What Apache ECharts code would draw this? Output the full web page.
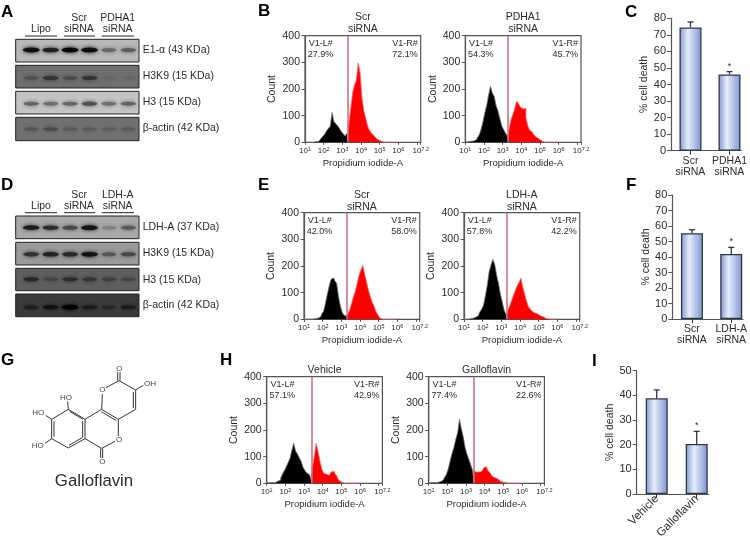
<!DOCTYPE html>
<html>
<head>
<meta charset="utf-8">
<style>html,body{margin:0;background:#fff}#main{width:750px;height:542px}</style>
<script src="https://cdn.jsdelivr.net/npm/echarts@6/dist/echarts.min.js"></script>
</head>
<body>
<div id="main"></div>
<script>
// histogram bins, log10 of propidium iodide signal
var logBins = [1.0,1.1,1.2,1.3,1.4,1.5,1.6,1.7,1.8,1.9,
  2.0,2.1,2.2,2.3,2.4,2.5,2.6,2.7,2.8,2.9,
  3.0,3.1,3.2,3.3,3.4,3.5,3.6,3.7,3.8,3.9,
  4.0,4.1,4.2,4.3,4.4,4.5,4.6,4.7,4.8,4.9,
  5.0,5.1,5.2,5.3,5.4,5.5,5.6,5.7,5.8,5.9];
var countsScrB = [0,0,0,0,0,1,2,4,8,14,
  22,30,42,52,60,112,78,70,62,52,
  40,32,24,34,70,125,185,215,232,298,
  262,170,118,92,62,45,36,28,20,12,
  7,2,1,0,0,0,0,0,0,0];
var countsPdha = [1,2,3,4,5,7,10,18,28,50,
  78,112,140,178,210,185,172,138,118,90,
  62,48,35,24,50,85,105,125,155,145,
  132,125,128,90,62,45,38,30,22,15,
  8,3,1,0,0,0,0,0,0,0];
var countsScrE = [0,0,0,0,0,0,2,4,7,10,
  20,30,60,95,125,150,155,145,135,85,
  50,25,15,12,20,35,60,85,105,135,
  165,185,202,170,140,110,85,65,50,30,
  18,6,1,0,0,0,0,0,0,0];
var countsLdh = [0,0,1,1,3,4,7,12,18,28,
  38,55,90,130,180,205,225,205,165,135,
  95,65,35,18,35,50,70,90,108,125,
  138,155,120,95,68,48,38,30,24,20,
  16,13,10,6,3,1,0,0,0,0];
var countsVehicle = [2,2,2,3,2,5,8,12,20,35,
  48,62,78,95,125,150,120,110,95,82,
  60,48,38,32,20,60,100,150,120,85,
  55,38,34,30,32,42,45,36,28,12,
  5,1,0,0,0,0,0,0,0,0];
var countsGallo = [1,2,2,3,2,4,6,10,14,22,
  34,55,85,112,135,165,190,240,205,175,
  135,110,90,70,48,42,40,42,45,48,
  58,62,50,42,32,24,20,15,10,7,
  4,2,1,0,0,0,0,0,0,0];

// bar panels
var catsC = ['Scr\nsiRNA','PDHA1\nsiRNA'], meanC = [74.4,46.1], upperC = [77.8,47.8], starC = [0,1];
var catsF = ['Scr\nsiRNA','LDH-A\nsiRNA'], meanF = [55.3,41.9], upperF = [57.6,46.2], starF = [0,1];
var catsI = ['Vehicle','Galloflavin'], meanI = [38.8,20.3], upperI = [42.2,25.4], starI = [0,1];

// blot band strength per lane (0..1)
var bandE1 = [0.95,0.85,1,0.95,0.45,0.5];
var bandH3K9a = [0.3,0.55,0.35,0.55,0.08,0.08];
var bandH3a = [0.5,0.45,0.5,0.6,0.45,0.5];
var bandActinA = [0.25,0.35,0.2,0.2,0.18,0.2];
var bandLdh = [0.85,0.75,0.6,0.9,0.25,0.5];
var bandH3K9d = [0.7,0.8,0.75,0.9,0.45,0.55];
var bandH3d = [0.6,0.3,0.55,0.45,0.35,0.3];
var bandActinD = [0.5,0.7,1,0.55,0.35,0.55];

var FONT = 'Liberation Sans';
var TXT = '#2b2b2b';
var grids = [], xAxes = [], yAxes = [], series = [], gfx = [];

function text(str, x, y, size, opt) {
  opt = opt || {};
  gfx.push({
    type: 'text', x: x, y: y, silent: true,
    style: {
      text: str, fontFamily: FONT, fontSize: size, fontWeight: opt.bold ? 'bold' : 'normal',
      fill: opt.color || TXT, align: opt.align || 'left', verticalAlign: 'middle'
    },
    z: opt.z || 10
  });
}
function line(x1, y1, x2, y2, w, c) {
  gfx.push({ type: 'line', silent: true, shape: { x1: x1, y1: y1, x2: x2, y2: y2 }, style: { stroke: c || '#333', lineWidth: w || 1 } });
}

// one western blot strip
function addBlot(left, top, height, bandY, bg, bands) {
  var idx = grids.length;
  var level = parseInt(bg.slice(1, 3), 16);
  grids.push({ show: true, left: left, top: top, width: 123.3, height: height, backgroundColor: bg, borderColor: '#222', borderWidth: 1 });
  xAxes.push({ type: 'value', gridIndex: idx, min: -0.8, max: 5.55, show: false });
  yAxes.push({ type: 'value', gridIndex: idx, min: 0, max: height, inverse: true, show: false });
  series.push({
    type: 'scatter', xAxisIndex: idx, yAxisIndex: idx, silent: true,
    data: bands.map(function (s, lane) {
      var g = Math.round(level * (1 - s));
      var col = 'rgb(' + g + ',' + g + ',' + g + ')';
      return {
        value: [lane, bandY - top],
        symbolSize: [14 + 3 * s, 3 + 2 * s],
        itemStyle: { color: col, shadowBlur: 4, shadowColor: col, opacity: 0.95 }
      };
    })
  });
}

function addBlotHeader(groups, yLine, yA, yB) {
  groups.forEach(function (g) {
    if (g.a) text(g.a, g.cx, yA, 10.5, { align: 'center' });
    text(g.b, g.cx, yB, 10.5, { align: 'center' });
    line(g.x1, yLine, g.x2, yLine, 1, '#222');
  });
}

// one flow histogram, black left of the gate and red right of it
function addHist(left, top, title, gate, counts, pctL, pctR, titleYs) {
  var idx = grids.length, w = 115.7, h = 106.6;
  grids.push({ show: true, left: left, top: top, width: w, height: h, borderColor: '#555', borderWidth: 1.2, backgroundColor: 'transparent' });
  xAxes.push({
    type: 'value', gridIndex: idx, min: 1, max: 7.2, interval: 1,
    name: 'Propidium iodide-A', nameLocation: 'middle', nameGap: 16,
    nameTextStyle: { fontFamily: FONT, fontSize: 9.5, color: TXT },
    splitLine: { show: false },
    axisLine: { lineStyle: { color: '#555', width: 1.2 } },
    axisTick: { length: 2.5, lineStyle: { color: '#555' }, customValues: [1, 2, 3, 4, 5, 6, 7, 7.2] },
    axisLabel: {
      margin: 4, customValues: [1, 2, 3, 4, 5, 6, 7.2], hideOverlap: false,
      showMinLabel: true, showMaxLabel: true,
      formatter: function (v) { return '{b|10}{s|' + v + '}'; },
      rich: {
        b: { fontFamily: FONT, fontSize: 8, color: TXT, lineHeight: 9 },
        s: { fontFamily: FONT, fontSize: 5.5, color: TXT, verticalAlign: 'top', lineHeight: 9 }
      }
    }
  });
  yAxes.push({
    type: 'value', gridIndex: idx, min: 0, max: 400, interval: 100,
    name: 'Count', nameLocation: 'middle', nameGap: 27,
    nameTextStyle: { fontFamily: FONT, fontSize: 10.5, color: TXT },
    splitLine: { show: false },
    axisLine: { lineStyle: { color: '#555', width: 1.2 } },
    axisTick: { length: 3.5, lineStyle: { color: '#555' } },
    axisLabel: { margin: 5, fontFamily: FONT, fontSize: 10.5, color: TXT }
  });
  var pts = logBins.map(function (b, i) { return [b, counts[i]]; });
  var cut = logBins.findIndex(function (b) { return b >= gate; });
  function hist(data, fill, edge, extra) {
    series.push(Object.assign({
      type: 'line', xAxisIndex: idx, yAxisIndex: idx, step: 'middle', symbol: 'none', silent: true,
      data: data, lineStyle: { color: edge, width: 0.8 }, areaStyle: { color: fill, opacity: 1 }
    }, extra || {}));
  }
  hist(pts.slice(0, cut + 1), '#000', '#777');
  hist(pts.slice(cut), '#f00', '#f66', {
    markLine: {
      silent: true, symbol: 'none', label: { show: false }, animation: false,
      lineStyle: { color: '#c96a82', width: 1.5, type: 'solid' },
      data: [{ xAxis: gate }]
    }
  });
  var cx = left + w / 2;
  title.forEach(function (t, i) { text(t, cx, titleYs[i], 10.5, { align: 'center' }); });
  text('V1-L#', left + 3.7, top + 7.5, 9);
  text(pctL, left + 2.7, top + 19, 9);
  text('V1-R#', left + w - 3, top + 7.5, 9, { align: 'right' });
  text(pctR, left + w - 3, top + 19, 9, { align: 'right' });
}

// one % cell death bar panel; x is a value axis so the baseline stops at the second bar
function addBars(left, top, height, yMax, cats, means, uppers, stars, rotate) {
  var idx = grids.length;
  grids.push({ left: left, top: top, width: 72, height: height });
  xAxes.push({
    type: 'value', gridIndex: idx, min: -0.5, max: 1.3, splitLine: { show: false },
    axisLine: { onZero: false, lineStyle: { color: '#555', width: 1.2 } },
    axisTick: { length: 4, lineStyle: { color: '#333' }, customValues: [0, 1] },
    axisLabel: {
      customValues: [0, 1], margin: rotate ? 3 : 5, rotate: rotate || 0, hideOverlap: false,
      fontFamily: FONT, fontSize: rotate ? 11.5 : 10.5, color: TXT, lineHeight: 11,
      formatter: function (v) { return cats[v]; }
    }
  });
  yAxes.push({
    type: 'value', gridIndex: idx, min: 0, max: yMax, interval: 10,
    name: '% cell death', nameLocation: 'middle', nameGap: 21,
    nameTextStyle: { fontFamily: FONT, fontSize: 10.5, color: TXT },
    splitLine: { show: false },
    axisLine: { show: true, onZero: false, lineStyle: { color: '#555', width: 1.2 } },
    axisTick: { show: true, length: 4, lineStyle: { color: '#555' } },
    axisLabel: { margin: 5, fontFamily: FONT, fontSize: 11, color: TXT }
  });
  series.push({
    type: 'bar', xAxisIndex: idx, yAxisIndex: idx, barWidth: 22, silent: true,
    data: means.map(function (m, i) { return [i, m]; }),
    itemStyle: {
      borderColor: '#2d3648', borderWidth: 1.3,
      color: { type: 'linear', x: 0, y: 0, x2: 1, y2: 0, colorStops: [
        { offset: 0, color: '#7f98d2' }, { offset: 0.38, color: '#e6ecfa' }, { offset: 1, color: '#7c95d0' }
      ] }
    }
  });
  series.push({
    type: 'custom', xAxisIndex: idx, yAxisIndex: idx, silent: true, clip: false,
    data: means.map(function (m, i) { return [i, m, uppers[i], stars[i]]; }),
    renderItem: function (params, api) {
      var base = api.coord([api.value(0), api.value(1)]);
      var tip = api.coord([api.value(0), api.value(2)]);
      var kids = [
        { type: 'line', shape: { x1: base[0], y1: base[1], x2: tip[0], y2: tip[1] }, style: { stroke: '#2d3648', lineWidth: 1.3 } },
        { type: 'line', shape: { x1: tip[0] - 3, y1: tip[1], x2: tip[0] + 3, y2: tip[1] }, style: { stroke: '#2d3648', lineWidth: 1.3 } }
      ];
      if (api.value(3)) {
        kids.push({ type: 'text', x: tip[0], y: tip[1] - 1, style: { text: '*', fontFamily: FONT, fontSize: 9, fill: TXT, align: 'center', verticalAlign: 'bottom' } });
      }
      return { type: 'group', children: kids };
    }
  });
}

// panel letters
[['A', 1, 12], ['B', 258, 11], ['C', 625, 12], ['D', 1, 185], ['E', 258, 185], ['F', 626, 185],
 ['G', 1, 360], ['H', 220, 360], ['I', 592, 361]].forEach(function (p) {
  text(p[0], p[1], p[2], 17, { bold: true, color: '#000' });
});

// A blots
addBlot(15.7, 39.3, 22.7, 50, '#b8b8b8', bandE1);
addBlot(15.7, 65.3, 22.7, 78, '#6e6e6e', bandH3K9a);
addBlot(15.7, 91.3, 22.7, 103.7, '#c4c4c4', bandH3a);
addBlot(15.7, 117.3, 23.4, 129, '#707070', bandActinA);
addBlotHeader([
  { b: 'Lipo', cx: 41, x1: 25, x2: 57 },
  { a: 'Scr', b: 'siRNA', cx: 79, x1: 64, x2: 95 },
  { a: 'PDHA1', b: 'siRNA', cx: 117.7, x1: 101.7, x2: 134 }
], 36, 18, 29);
[['E1-α (43 KDa)', 50], ['H3K9 (15 KDa)', 76], ['H3 (15 KDa)', 102], ['β-actin (42 KDa)', 128]].forEach(function (r) {
  text(r[0], 142.7, r[1], 10.5);
});

// D blots
addBlot(15.7, 216, 22.7, 227.7, '#a9a9a9', bandLdh);
addBlot(15.7, 242.3, 22.7, 254.3, '#9a9a9a', bandH3K9d);
addBlot(15.7, 268.3, 22.4, 279.3, '#5e5e5e', bandH3d);
addBlot(15.7, 294, 22.7, 307.3, '#3a3a3a', bandActinD);
addBlotHeader([
  { b: 'Lipo', cx: 41, x1: 25, x2: 57 },
  { a: 'Scr', b: 'siRNA', cx: 79, x1: 64, x2: 95 },
  { a: 'LDH-A', b: 'siRNA', cx: 117.7, x1: 101.7, x2: 134 }
], 212.7, 195, 206);
[['LDH-A (37 KDa)', 227.3], ['H3K9 (15 KDa)', 253], ['H3 (15 KDa)', 280], ['β-actin (42 KDa)', 305.5]].forEach(function (r) {
  text(r[0], 142.7, r[1], 10.5);
});

// histograms
addHist(305, 35.7, ['Scr', 'siRNA'], 3.27, countsScrB, '27.9%', '72.1%', [17, 29]);
addHist(465.3, 35.7, ['PDHA1', 'siRNA'], 3.25, countsPdha, '54.3%', '45.7%', [17, 29]);
addHist(304, 212.7, ['Scr', 'siRNA'], 3.3, countsScrE, '42.0%', '58.0%', [195, 207]);
addHist(464, 212.7, ['LDH-A', 'siRNA'], 3.29, countsLdh, '57.8%', '42.2%', [195, 207]);
addHist(266.7, 376.7, ['Vehicle'], 3.4, countsVehicle, '57.1%', '42.9%', [370]);
addHist(428.7, 376.7, ['Galloflavin'], 3.4, countsGallo, '77.4%', '22.6%', [370]);

// bar panels
addBars(671, 18.3, 132.4, 80, catsC, meanC, upperC, starC);
addBars(672.3, 195, 124, 80, catsF, meanF, upperF, starF);
addBars(636.7, 370.7, 123.3, 50, catsI, meanI, upperI, starI, 45);

// galloflavin structure, coordinates in a 3x sketch with origin at (0,340)
function mx(v) { return v / 3; }
function my(v) { return 340 + v / 3; }
[
  [205,208,255,238],[255,238,255,296],[255,296,205,324],[205,324,155,296],[155,296,155,238],[155,238,205,208],
  [255,238,305,208],[305,208,355,238],[355,238,355,288],[345,304,305,325],[305,325,255,296],
  [305,208,307,162],[318,143,357,122],[357,122,407,150],[407,150,407,208],[407,208,355,238],
  [353,122,353,97],[407,150,430,136],[205,208,203,185],[155,238,137,226],[155,296,135,310],[302,325,302,354]
].forEach(function (b) { line(mx(b[0]), my(b[1]), mx(b[2]), my(b[3]), 1, '#333'); });
[
  [209,214,249,238],[248,243,248,291],[248,292,207,316],[162,244,162,290],
  [304,215,349,242],[400,156,400,204],[360,122,360,97],[308,325,308,354]
].forEach(function (b) { line(mx(b[0]), my(b[1]), mx(b[2]), my(b[3]), 1, '#333'); });
[['O', 358, 85], ['O', 307, 150], ['OH', 450, 131], ['O', 357, 299], ['O', 307, 366],
 ['HO', 198, 172], ['HO', 115, 219], ['HO', 113, 316]].forEach(function (a) {
  text(a[0], mx(a[1]), my(a[2]), 8, { align: 'center', color: '#444' });
});
text('Galloflavin', 94, 481.7, 16.8, { align: 'center' });

var chart = echarts.init(document.getElementById('main'), null, { renderer: 'canvas' });
chart.setOption({
  animation: false,
  textStyle: { fontFamily: FONT },
  grid: grids, xAxis: xAxes, yAxis: yAxes, series: series,
  graphic: { elements: gfx }
});
</script>
</body>
</html>
